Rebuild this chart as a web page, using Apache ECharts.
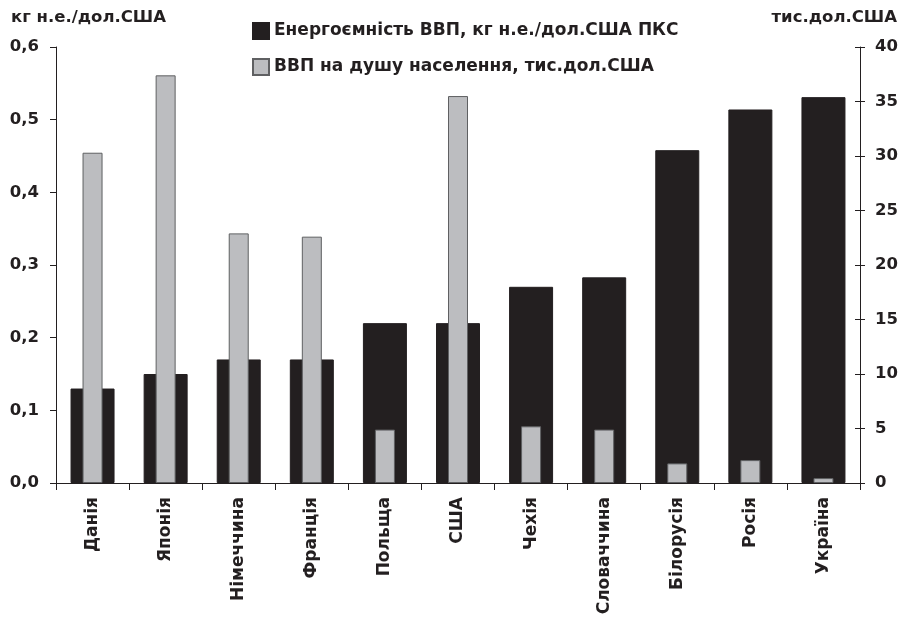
<!DOCTYPE html>
<html>
<head>
<meta charset="utf-8">
<script src="https://cdn.jsdelivr.net/npm/echarts@6/dist/echarts.min.js"></script>
<style>
  html, body { margin: 0; padding: 0; background: #fff; }
  #chart { width: 901px; height: 619px; }
</style>
</head>
<body>
<div id="chart"></div>
<script>
// країни
var countries = ['Данія', 'Японія', 'Німеччина', 'Франція', 'Польща', 'США',
    'Чехія', 'Словаччина', 'Білорусія', 'Росія', 'Україна'];
// енергоємність ВВП, кг н.е./дол.США ПКС
var energyIntensity = [0.13, 0.15, 0.17, 0.17, 0.22, 0.22, 0.27, 0.283, 0.458, 0.514, 0.531];
// ВВП на душу населення, тис.дол.США
var gdpPerCapita = [30.3, 37.4, 22.9, 22.6, 4.9, 35.5, 5.2, 4.9, 1.8, 2.1, 0.45];

var font = '"DejaVu Sans", sans-serif';
var ink = '#231f20';
var chart = echarts.init(document.getElementById('chart'));

chart.setOption({
    animation: false,
    textStyle: {fontFamily: font},
    grid: {left: 56, right: 41, top: 47, bottom: 136},
    legend: {
        orient: 'vertical',
        left: 247,
        top: 17,
        itemGap: 18,
        itemWidth: 16,
        itemHeight: 16,
        icon: 'rect',
        textStyle: {fontFamily: font, fontWeight: 'bold', fontSize: 17, color: ink},
        data: ['Енергоємність ВВП, кг н.е./дол.США ПКС', 'ВВП на душу населення, тис.дол.США']
    },
    graphic: [
        {type: 'text', left: 11, top: 9,
         style: {text: 'кг н.е./дол.США', font: 'bold 16.5px ' + font, fill: ink}},
        {type: 'text', right: 4, top: 9,
         style: {text: 'тис.дол.США', font: 'bold 16.5px ' + font, fill: ink}}
    ],
    xAxis: [
        {
            type: 'category',
            data: countries,
            axisLine: {lineStyle: {color: ink, width: 1}},
            axisTick: {show: true, length: 7, lineStyle: {color: ink}},
            axisLabel: {
                rotate: 90, margin: 14, color: ink,
                fontWeight: 'bold', fontSize: 17, fontFamily: font
            }
        },
        {
            type: 'category',
            data: countries,
            show: false
        }
    ],
    yAxis: [
        {
            type: 'value', min: 0, max: 0.6, interval: 0.1, position: 'left',
            splitLine: {show: false},
            axisLine: {show: true, lineStyle: {color: ink}},
            axisTick: {show: true, length: 6, lineStyle: {color: ink}},
            axisLabel: {
                color: ink, fontWeight: 'bold', fontSize: 16.5, margin: 17,
                formatter: function (v) { return v.toFixed(1).replace('.', ','); }
            }
        },
        {
            type: 'value', min: 0, max: 40, interval: 5, position: 'right',
            splitLine: {show: false},
            axisLine: {show: true, lineStyle: {color: ink}},
            axisTick: {show: true, length: 5, lineStyle: {color: ink}},
            axisLabel: {color: ink, fontWeight: 'bold', fontSize: 16.5, margin: 15}
        },
        {
            // inner half of the crossing ticks on the right axis
            type: 'value', min: 0, max: 40, interval: 5, position: 'right',
            splitLine: {show: false},
            axisLine: {show: false},
            axisTick: {show: true, inside: true, length: 5, lineStyle: {color: ink}},
            axisLabel: {show: false}
        }
    ],
    series: [
        {
            name: 'Енергоємність ВВП, кг н.е./дол.США ПКС',
            type: 'bar',
            xAxisIndex: 0,
            yAxisIndex: 0,
            barWidth: 44,
            itemStyle: {color: ink, borderColor: ink, borderWidth: 1},
            data: energyIntensity
        },
        {
            name: 'ВВП на душу населення, тис.дол.США',
            type: 'bar',
            xAxisIndex: 1,
            yAxisIndex: 1,
            barWidth: 20,
            z: 3,
            itemStyle: {color: '#bcbdc0', borderColor: '#5f6062', borderWidth: 1},
            data: gdpPerCapita
        }
    ]
});
</script>
</body>
</html>
